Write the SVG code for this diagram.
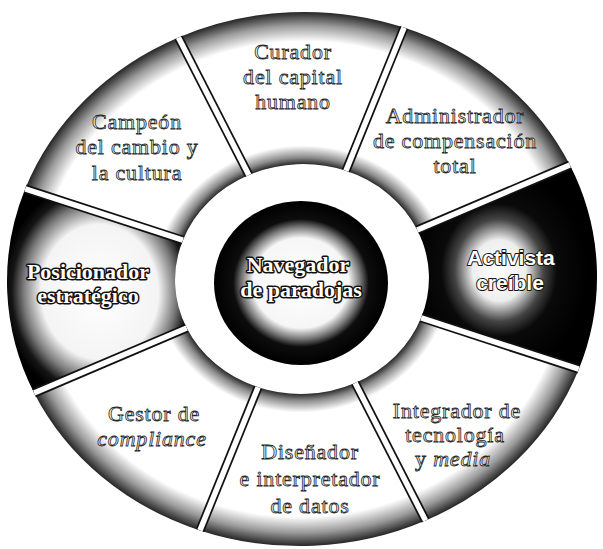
<svg xmlns="http://www.w3.org/2000/svg" width="603" height="549" viewBox="0 0 603 549">
  <defs>
    <radialGradient id="gLight" gradientUnits="userSpaceOnUse" cx="302" cy="279" r="295" gradientTransform="translate(302 279) scale(1 0.905) translate(-302 -279)">
      <stop offset="0.43" stop-color="#2a2a2a"/>
      <stop offset="0.455" stop-color="#8a8a8a"/>
      <stop offset="0.5" stop-color="#ffffff"/>
      <stop offset="0.89" stop-color="#ffffff"/>
      <stop offset="0.95" stop-color="#9a9a9a"/>
      <stop offset="1" stop-color="#262626"/>
    </radialGradient>
    <radialGradient id="gPos" cx="0.52" cy="0.52" r="0.55">
      <stop offset="0" stop-color="#ffffff"/>
      <stop offset="0.6" stop-color="#f4f4f4"/>
      <stop offset="0.78" stop-color="#7a7a7a"/>
      <stop offset="0.9" stop-color="#151515"/>
      <stop offset="1" stop-color="#000000"/>
    </radialGradient>
    <radialGradient id="gAct" cx="0.45" cy="0.5" r="0.5">
      <stop offset="0" stop-color="#ffffff"/>
      <stop offset="0.3" stop-color="#eeeeee"/>
      <stop offset="0.5" stop-color="#444444"/>
      <stop offset="0.65" stop-color="#0a0a0a"/>
      <stop offset="1" stop-color="#000000"/>
    </radialGradient>
    <radialGradient id="gCenter" cx="0.5" cy="0.5" r="0.5">
      <stop offset="0" stop-color="#ffffff"/>
      <stop offset="0.55" stop-color="#f6f6f6"/>
      <stop offset="0.68" stop-color="#7a7a7a"/>
      <stop offset="0.78" stop-color="#0d0d0d"/>
      <stop offset="1" stop-color="#000000"/>
    </radialGradient>
  </defs>
  <style>
    .seg-light { fill: url(#gLight); }
    .sep-out { stroke: #111; stroke-width: 9; fill: none; }
    .sep-in { stroke: #fff; stroke-width: 5.5; fill: none; }
    .lbl { font-family: "Liberation Serif", "Times New Roman", serif; font-size: 22px; letter-spacing: 0.8px; text-anchor: middle; fill: #f4f4f4; stroke: #262626; stroke-width: 0.8; }
    .big { font-family: "Liberation Serif", "Times New Roman", serif; font-size: 22px; font-weight: bold; text-anchor: middle; fill: #ffffff; stroke: #111; stroke-width: 3; paint-order: stroke; stroke-linejoin: round; }
    .bigsans { font-family: "Liberation Sans", Arial, sans-serif; font-size: 21px; font-weight: bold; text-anchor: middle; fill: #ffffff; stroke: #111; stroke-width: 2; paint-order: stroke; stroke-linejoin: round; }
    .it { font-style: italic; }
  </style>
  <rect width="603" height="549" fill="#ffffff"/>
  <g transform="rotate(-2.5 302 279)">
    <g id="activista">
      <path fill="url(#gAct)" d="M574.6,176.8 A295,267 0 0 1 574.6,381.2 L419.3,323 A127,115 0 0 0 419.3,235 Z"/>
    </g>
    <g id="integrador">
      <path class="seg-light" d="M574.6,381.2 A295,267 0 0 1 414.9,525.7 L350.6,385.2 A127,115 0 0 0 419.3,323 Z"/>
    </g>
    <g id="disenador">
      <path class="seg-light" d="M414.9,525.7 A295,267 0 0 1 189.1,525.7 L253.4,385.2 A127,115 0 0 0 350.6,385.2 Z"/>
    </g>
    <g id="gestor">
      <path class="seg-light" d="M189.1,525.7 A295,267 0 0 1 29.4,381.2 L184.7,323 A127,115 0 0 0 253.4,385.2 Z"/>
    </g>
    <g id="posicionador">
      <path fill="url(#gPos)" d="M29.4,381.2 A295,267 0 0 1 29.4,176.8 L184.7,235 A127,115 0 0 0 184.7,323 Z"/>
    </g>
    <g id="campeon">
      <path class="seg-light" d="M29.4,176.8 A295,267 0 0 1 189.1,32.3 L253.4,172.8 A127,115 0 0 0 184.7,235 Z"/>
    </g>
    <g id="curador">
      <path class="seg-light" d="M189.1,32.3 A295,267 0 0 1 414.9,32.3 L350.6,172.8 A127,115 0 0 0 253.4,172.8 Z"/>
    </g>
    <g id="administrador">
      <path class="seg-light" d="M414.9,32.3 A295,267 0 0 1 574.6,176.8 L419.3,235 A127,115 0 0 0 350.6,172.8 Z"/>
    </g>
    <g id="connectors">
      <g class="sep-out">
        <line x1="419.3" y1="323" x2="574.6" y2="381.2"/>
        <line x1="350.6" y1="385.2" x2="414.9" y2="525.7"/>
        <line x1="253.4" y1="385.2" x2="189.1" y2="525.7"/>
        <line x1="184.7" y1="323" x2="29.4" y2="381.2"/>
        <line x1="184.7" y1="235" x2="29.4" y2="176.8"/>
        <line x1="253.4" y1="172.8" x2="189.1" y2="32.3"/>
        <line x1="350.6" y1="172.8" x2="414.9" y2="32.3"/>
        <line x1="419.3" y1="235" x2="574.6" y2="176.8"/>
      </g>
      <g class="sep-in">
        <line x1="419.3" y1="323" x2="574.6" y2="381.2"/>
        <line x1="350.6" y1="385.2" x2="414.9" y2="525.7"/>
        <line x1="253.4" y1="385.2" x2="189.1" y2="525.7"/>
        <line x1="184.7" y1="323" x2="29.4" y2="381.2"/>
        <line x1="184.7" y1="235" x2="29.4" y2="176.8"/>
        <line x1="253.4" y1="172.8" x2="189.1" y2="32.3"/>
        <line x1="350.6" y1="172.8" x2="414.9" y2="32.3"/>
        <line x1="419.3" y1="235" x2="574.6" y2="176.8"/>
      </g>
    </g>
  </g>
  <g id="navegador">
    <ellipse cx="301" cy="283" rx="87" ry="82" fill="url(#gCenter)"/>
    <text class="big" x="298" y="272">Navegador</text>
    <text class="big" x="301" y="297">de paradojas</text>
  </g>
  <g id="labels">
    <text class="lbl" x="293" y="59">Curador</text>
    <text class="lbl" x="293" y="84">del capital</text>
    <text class="lbl" x="293" y="109">humano</text>
    <text class="lbl" x="455" y="123">Administrador</text>
    <text class="lbl" x="455" y="148">de compensación</text>
    <text class="lbl" x="455" y="173">total</text>
    <text class="lbl" x="137" y="129">Campeón</text>
    <text class="lbl" x="137" y="154">del cambio y</text>
    <text class="lbl" x="137" y="180">la cultura</text>
    <text class="big" x="88" y="279">Posicionador</text>
    <text class="big" x="88" y="303">estratégico</text>
    <text class="bigsans" x="511" y="265">Activista</text>
    <text class="bigsans" x="510" y="290">creíble</text>
    <text class="lbl" x="154" y="421">Gestor de</text>
    <text class="lbl it" x="152" y="446">compliance</text>
    <text class="lbl" x="310" y="459">Diseñador</text>
    <text class="lbl" x="310" y="486">e interpretador</text>
    <text class="lbl" x="310" y="513">de datos</text>
    <text class="lbl" x="457" y="418">Integrador de</text>
    <text class="lbl" x="455" y="442">tecnología</text>
    <text class="lbl" x="453" y="466">y <tspan class="it">media</tspan></text>
  </g>
</svg>
